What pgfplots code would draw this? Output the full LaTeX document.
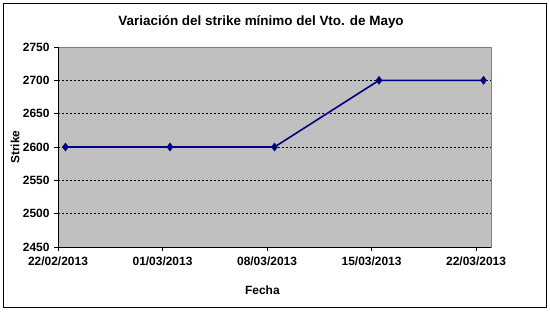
\documentclass[border=0pt]{standalone}
\usepackage{fontspec}
\setmainfont{Liberation Sans}
\usepackage{pgfplots}
\pgfplotsset{compat=1.18}
\definecolor{plotgray}{HTML}{C0C0C0}
\definecolor{bordergray}{HTML}{808080}
\definecolor{navyline}{HTML}{000080}
\begin{document}
\begin{tikzpicture}[x=1bp,y=1bp]
\path (0,0) rectangle (550,313);
\draw[black, line width=1bp] (3.5,6) rectangle (546,309.5);
\begin{axis}[
  at={(58bp,66bp)}, anchor=south west,
  scale only axis, width=433bp, height=200bp,
  xmin=0, xmax=29, ymin=2450, ymax=2750,
  axis lines*=left,
  axis line style={black, line width=0.8bp, -},
  axis background/.style={fill=plotgray, draw=bordergray, line width=0.8bp},
  xtick={0,7,14,21,28},
  xticklabels={22/02/2013,01/03/2013,08/03/2013,15/03/2013,22/03/2013},
  ytick={2450,2500,...,2750},
  tick align=outside,
  major tick length=4bp,
  tick style={black, line width=0.8bp},
  extra y ticks={2500,2550,2600,2650,2700},
  extra y tick labels={},
  extra y tick style={grid=major, major tick length=0pt},
  grid style={black, dash pattern=on 2bp off 2bp, line width=0.8bp},
  tick label style={font=\fontsize{12}{13}\selectfont\bfseries},
  /pgf/number format/assume math mode=true,
  /pgf/number format/1000 sep={},
  xticklabel style={yshift=-2.5bp},
  yticklabel style={xshift=-1bp},
  title={Variación del strike mínimo del Vto. de Mayo},
  title style={font=\fontsize{13.5}{15}\selectfont\bfseries, at={(axis description cs:0.469,1.095)}, anchor=center},
  xlabel={Fecha},
  xlabel style={font=\fontsize{12}{13}\selectfont\bfseries, at={(axis description cs:0.472,-0.215)}, anchor=center},
  ylabel={Strike},
  ylabel style={font=\fontsize{12}{13}\selectfont\bfseries, at={(axis description cs:-0.0993,0.5)}, anchor=center},
  clip=false,
]
\addplot[navyline, line width=1.6bp, mark=diamond*, mark size=4bp, mark options={fill=navyline, draw=navyline, line width=0.5bp}]
  coordinates {(0.5,2600) (7.5,2600) (14.5,2600) (21.5,2700) (28.5,2700)};
\end{axis}
\end{tikzpicture}
\end{document}
